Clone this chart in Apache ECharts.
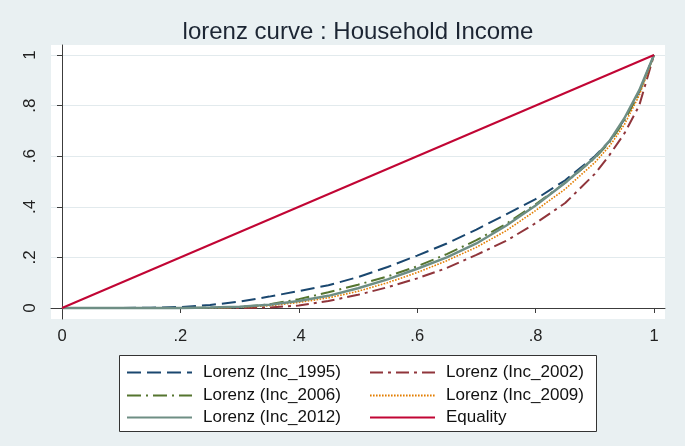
<!DOCTYPE html>
<html>
<head>
<meta charset="utf-8">
<script src="https://cdn.jsdelivr.net/npm/echarts@6/dist/echarts.min.js"></script>
<style>
html,body{margin:0;padding:0;background:#e9f0f2;}
#chart{width:685px;height:446px;}
</style>
</head>
<body>
<div id="chart"></div>
<script>
// Cumulative population share (x)
const xs = [0,0.05,0.1,0.15,0.2,0.25,0.3,0.35,0.4,0.45,0.5,0.55,0.6,0.65,0.7,0.75,0.8,0.85,0.9,0.925,0.95,0.975,1];
// Cumulative income share per year
const inc1995 = [0,0,0,0.001,0.004,0.012,0.025,0.045,0.067,0.09,0.122,0.162,0.207,0.255,0.31,0.37,0.43,0.505,0.6,0.66,0.745,0.855,1];
const inc2002 = [0,0,0,0,0,0,0,0.002,0.01,0.028,0.052,0.082,0.117,0.158,0.21,0.265,0.335,0.415,0.53,0.605,0.69,0.8,1];
const inc2006 = [0,0,0,0,0,0.001,0.004,0.014,0.035,0.062,0.092,0.125,0.165,0.213,0.268,0.332,0.41,0.495,0.592,0.655,0.74,0.85,1];
const inc2009 = [0,0,0,0,0,0.001,0.003,0.009,0.022,0.04,0.066,0.1,0.14,0.187,0.24,0.305,0.385,0.47,0.575,0.64,0.725,0.84,1];
const inc2012 = [0,0,0,0,0,0.002,0.005,0.013,0.028,0.048,0.078,0.113,0.155,0.2,0.255,0.325,0.405,0.495,0.595,0.66,0.75,0.86,1];
const equalityX = [0,1];
const equalityY = [0,1];

const tickValues = [0,0.2,0.4,0.6,0.8,1];
const tickLabels = ['0','.2','.4','.6','.8','1'];

const titleText = 'lorenz curve : Household Income';
const names = ['Lorenz (Inc_1995)','Lorenz (Inc_2002)','Lorenz (Inc_2006)','Lorenz (Inc_2009)','Lorenz (Inc_2012)','Equality'];

const FONT = '"Liberation Sans", Arial, sans-serif';
function fmt(v){
  const i = tickValues.findIndex(t => Math.abs(t - v) < 1e-9);
  return i >= 0 ? tickLabels[i] : '';
}
function pairs(xv, yv){ return xv.map((x,i)=>[x, yv[i]]); }

const chart = echarts.init(document.getElementById('chart'), null, {renderer:'canvas'});

const legendCommon = {
  orient:'vertical', padding:0, itemWidth:65, itemHeight:14, itemGap:0,
  textStyle:{fontFamily:FONT, fontSize:17, color:'#111', padding:[0,0,0,6]},
  itemStyle:{opacity:0, borderWidth:0},
  selectedMode:false
};
const legendPos = [
  [126,364],[369,364],[126,387],[369,387],[126,409],[369,409]
];

const option = {
  backgroundColor:'#e9f0f2',
  animation:false,
  title:{
    text:titleText, left:353, top:15, textAlign:'center',
    textStyle:{fontFamily:FONT, fontSize:24, fontWeight:'normal', color:'#1c2533'}
  },
  graphic:[{
    type:'rect', z:0,
    shape:{x:119.5, y:355.5, width:477, height:76},
    style:{fill:'#ffffff', stroke:'#333333', lineWidth:1}
  }],
  legend: names.map((n,i)=>Object.assign({}, legendCommon, {
    left:legendPos[i][0], top:legendPos[i][1], data:[n]
  })),
  grid:{
    left:51, right:20, top:45, bottom:127,
    show:true, backgroundColor:'#ffffff', borderWidth:0
  },
  xAxis:{
    type:'value', min:-0.0186, max:1.0186,
    axisLine:{show:true, lineStyle:{color:'#3c3c3c', width:1}},
    axisTick:{show:true, length:5, customValues:tickValues, lineStyle:{color:'#3c3c3c'}},
    axisLabel:{customValues:tickValues, formatter:fmt, margin:9,
      fontFamily:FONT, fontSize:16.5, color:'#222'},
    splitLine:{show:false}
  },
  yAxis:{
    type:'value', min:-0.0435, max:1.0395,
    axisLine:{show:true, lineStyle:{color:'#3c3c3c', width:1}},
    axisTick:{show:true, length:5, customValues:tickValues, lineStyle:{color:'#3c3c3c'}},
    axisLabel:{customValues:tickValues, formatter:fmt, margin:12, rotate:90,
      fontFamily:FONT, fontSize:17, color:'#222'},
    splitLine:{show:true, lineStyle:{color:'#e2eaed', width:1}}
  },
  series:[
    {name:names[0], type:'line', data:pairs(xs,inc1995), symbol:'none', smooth:false,
      lineStyle:{color:'#1a476f', width:2, type:[14,6]}, itemStyle:{color:'#1a476f'}},
    {name:names[1], type:'line', data:pairs(xs,inc2002), symbol:'none', smooth:false,
      lineStyle:{color:'#90353b', width:2, type:[13,5,3,5]}, itemStyle:{color:'#90353b'}},
    {name:names[2], type:'line', data:pairs(xs,inc2006), symbol:'none', smooth:false,
      lineStyle:{color:'#55752f', width:2, type:[14,5,2,5]}, itemStyle:{color:'#55752f'}},
    {name:names[3], type:'line', data:pairs(xs,inc2009), symbol:'none', smooth:false,
      lineStyle:{color:'#e37e00', width:1.6, type:[1.6,1.4]}, itemStyle:{color:'#e37e00'}},
    {name:names[4], type:'line', data:pairs(xs,inc2012), symbol:'none', smooth:false,
      lineStyle:{color:'#6e8e84', width:2.5, type:'solid'}, itemStyle:{color:'#6e8e84'}},
    {name:names[5], type:'line', data:pairs(equalityX,equalityY), symbol:'none',
      lineStyle:{color:'#c10534', width:2, type:'solid'}, itemStyle:{color:'#c10534'}}
  ]
};
chart.setOption(option);
</script>
</body>
</html>
